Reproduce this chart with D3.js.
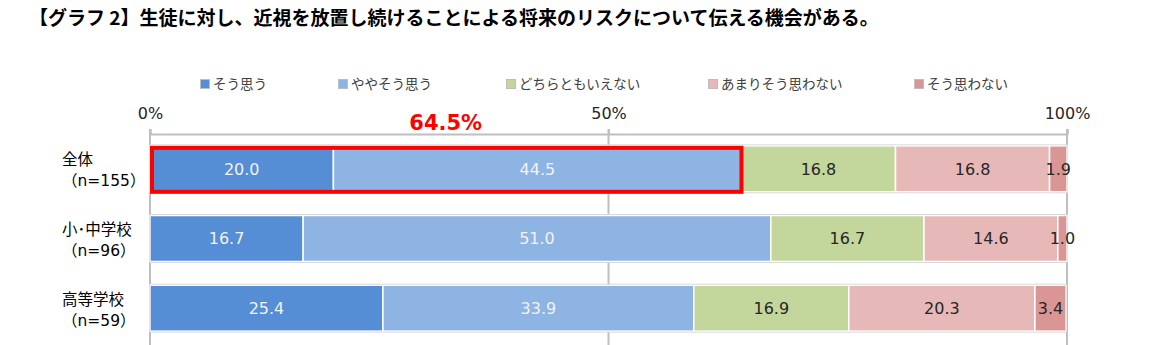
<!DOCTYPE html>
<html>
<head>
<meta charset="utf-8">
<script src="https://cdn.jsdelivr.net/npm/d3@7"></script>
<style>
  html, body { margin: 0; padding: 0; background: #fff; }
  svg { display: block; }
</style>
</head>
<body>
<svg id="chart" width="1170" height="345"></svg>
<script>
// Survey categories (row labels, two lines each)
const categories = ["全体", "小･中学校", "高等学校"];
const sampleSizes = ["（n=155）", "（n=96）", "（n=59）"];

// Response options, in stacking order
const seriesNames = ["そう思う", "ややそう思う", "どちらともいえない", "あまりそう思わない", "そう思わない"];

// Percentages per response option, one value per category
const agree         = [20.0, 16.7, 25.4];
const somewhatAgree = [44.5, 51.0, 33.9];
const neutral       = [16.8, 16.7, 16.9];
const somewhatNot   = [16.8, 14.6, 20.3];
const disagree      = [1.9, 1.0, 3.4];

const tickValues = [0, 50, 100];
const tickLabels = ["0%", "50%", "100%"];

const seriesValues = [agree, somewhatAgree, neutral, somewhatNot, disagree];
const colors = ["#558ED5", "#8EB4E3", "#C3D69B", "#E6B9B8", "#D99694"];
const labelColors = ["#F2F2F2", "#F2F2F2", "#262626", "#262626", "#262626"];

const svg = d3.select("#chart");

const x = d3.scaleLinear().domain([0, 100]).range([150, 1067]);
const y = d3.scaleBand().domain(categories).range([134, 343]).paddingInner(0.34).paddingOuter(0.17);

const numFont = "'DejaVu Sans', Verdana, sans-serif";
const jpFont = "'Noto Sans CJK JP', sans-serif";

// Title
svg.append("text")
  .attr("x", 29).attr("y", 25)
  .attr("font-family", jpFont)
  .attr("font-weight", "bold")
  .attr("font-size", 19)
  .attr("fill", "#000")
  .text("【グラフ 2】生徒に対し、近視を放置し続けることによる将来のリスクについて伝える機会がある。");

// Legend
const legendX = [200, 338, 506, 708, 914];
const legend = svg.append("g");
seriesNames.forEach((name, i) => {
  const g = legend.append("g").attr("transform", `translate(${legendX[i]},84)`);
  g.append("rect").attr("x", 0.5).attr("y", -4.5).attr("width", 9).attr("height", 9)
    .attr("fill", colors[i]).attr("stroke", "#BFBFBF").attr("stroke-width", 1);
  g.append("text").attr("x", 13).attr("y", 0).attr("dy", "0.36em")
    .attr("font-family", jpFont)
    .attr("font-size", 13.5).attr("fill", "#404040")
    .text(name);
});

// Vertical gridlines at tick positions
svg.append("g").selectAll("line").data(tickValues).join("line")
  .attr("x1", d => x(d)).attr("x2", d => x(d))
  .attr("y1", 129).attr("y2", 345)
  .attr("stroke", "#BFBFBF").attr("stroke-width", 2);

// Top axis
const axis = d3.axisTop(x).tickValues(tickValues).tickFormat((d, i) => tickLabels[i]).tickSize(5).tickPadding(10);
const ax = svg.append("g").attr("transform", "translate(0,134)").call(axis);
ax.select(".domain").attr("stroke", "#BFBFBF").attr("stroke-width", 2);
ax.selectAll(".tick line").attr("stroke", "#BFBFBF").attr("stroke-width", 2);
ax.selectAll(".tick text")
  .attr("font-family", numFont)
  .attr("font-size", 16).attr("fill", "#262626");

// Stacked data
const rows = categories.map((c, ci) => {
  let acc = 0;
  return seriesValues.map((vals, si) => {
    const v = vals[ci];
    const seg = { cat: c, si, v, x0: acc, x1: acc + v };
    acc += v;
    return seg;
  });
});

const bars = svg.append("g");
rows.forEach(segs => {
  const g = bars.append("g");
  g.selectAll("rect").data(segs).join("rect")
    .attr("x", d => x(d.x0)).attr("width", d => x(d.x1) - x(d.x0))
    .attr("y", d => y(d.cat)).attr("height", y.bandwidth())
    .attr("fill", d => colors[d.si])
    .attr("stroke", "#FFFFFF").attr("stroke-width", 1.5);
  // thin outline around the whole bar
  const last = segs[segs.length - 1];
  g.append("rect")
    .attr("x", x(0)).attr("width", x(last.x1) - x(0))
    .attr("y", y(last.cat) - 1).attr("height", y.bandwidth() + 2)
    .attr("fill", "none").attr("stroke", "#D9D9D9").attr("stroke-width", 1);
  g.selectAll("text").data(segs).join("text")
    .attr("x", d => (x(d.x0) + x(d.x1)) / 2)
    .attr("y", d => y(d.cat) + y.bandwidth() / 2)
    .attr("dy", "0.36em")
    .attr("text-anchor", "middle")
    .attr("font-family", numFont)
    .attr("font-size", 16)
    .attr("fill", d => labelColors[d.si])
    .text(d => d.v.toFixed(1));
});

// Category labels
const catG = svg.append("g");
categories.forEach((c, i) => {
  const cy = y(c) + y.bandwidth() / 2;
  const t = catG.append("text")
    .attr("font-family", "'DejaVu Sans', 'Noto Sans CJK JP', sans-serif")
    .attr("font-size", 15.5).attr("fill", "#000");
  t.append("tspan").attr("x", 62).attr("y", cy - 9).attr("dy", "0.36em")
    .attr("font-family", jpFont).text(c);
  t.append("tspan").attr("x", 62).attr("y", cy + 12).attr("dy", "0.36em").text(sampleSizes[i]);
});

// Highlight: total of the two agreeing responses for the overall group
const hlTotal = agree[0] + somewhatAgree[0];
const hy = y(categories[0]);
svg.append("rect")
  .attr("x", x(0) + 2).attr("width", x(hlTotal) - x(0) - 2)
  .attr("y", hy + 2).attr("height", y.bandwidth() - 2)
  .attr("fill", "none").attr("stroke", "#FF0000").attr("stroke-width", 4);
svg.append("text")
  .attr("x", x(hlTotal / 2)).attr("y", 130)
  .attr("text-anchor", "middle")
  .attr("font-family", numFont)
  .attr("font-weight", "bold").attr("font-size", 21)
  .attr("fill", "#FF0000")
  .text(hlTotal.toFixed(1) + "%");
</script>
</body>
</html>
